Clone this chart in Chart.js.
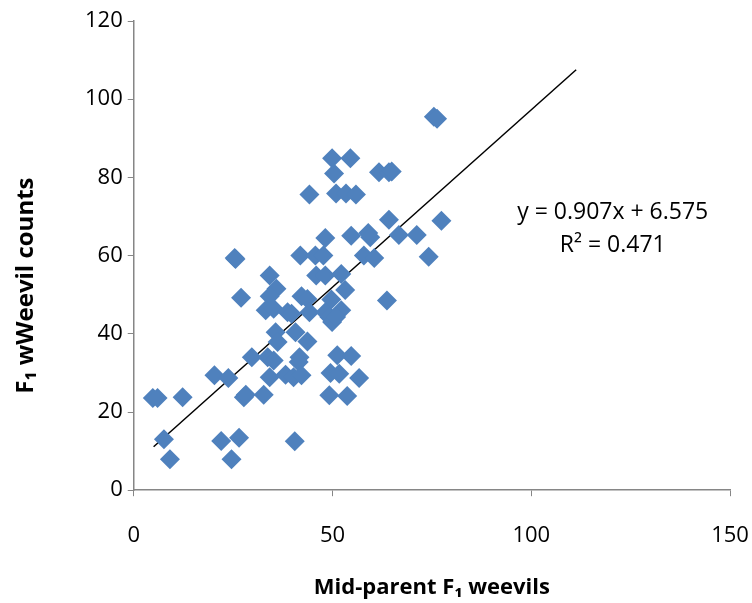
<!DOCTYPE html>
<html>
<head>
<meta charset="utf-8">
<script src="https://cdn.jsdelivr.net/npm/chart.js@4"></script>
<style>
html,body{margin:0;padding:0;background:#fff;}
#wrap{width:752px;height:603px;}
</style>
</head>
<body>
<div id="wrap"><canvas id="c" width="752" height="603"></canvas></div>
<script>
// Mid-parent F1 weevils (x) and F1 weevil counts (y)
const midParent = [
  75.5, 76.3, 49.9, 54.5, 50.4, 61.7, 64.2, 64.9, 44.2, 50.9, 53.4, 55.9,
  64.2, 77.4, 54.7, 59.0, 59.5, 66.7, 71.2, 48.2, 74.2, 57.9, 60.5, 41.9,
  45.7, 47.7, 25.4, 25.6, 34.2, 45.9, 48.2, 52.2, 35.9, 34.2, 53.2, 27.0,
  42.2, 43.7, 49.7, 63.7, 33.2, 35.2, 38.7, 39.7, 44.2, 48.2, 49.2, 49.9,
  52.2, 50.9, 35.7, 40.7, 36.2, 43.7, 29.7, 33.7, 35.2, 41.7, 41.5, 51.2,
  54.7, 20.3, 23.8, 34.2, 38.2, 40.2, 42.2, 49.5, 51.7, 56.7, 4.8, 6.0,
  12.3, 27.7, 28.2, 32.7, 49.2, 53.7, 7.6, 22.0, 26.5, 40.5, 9.1, 24.6
];
const f1Counts = [
  95.5, 95.0, 84.9, 84.9, 81.0, 81.3, 81.3, 81.5, 75.6, 75.9, 75.9, 75.6,
  69.2, 68.9, 65.1, 65.8, 64.7, 65.3, 65.3, 64.5, 59.7, 60.0, 59.4, 60.0,
  60.0, 60.0, 59.4, 59.1, 54.9, 54.9, 54.9, 55.3, 51.5, 49.6, 51.2, 49.2,
  49.6, 48.9, 48.8, 48.5, 46.0, 46.4, 45.5, 45.1, 45.5, 45.5, 44.3, 43.0,
  46.0, 44.3, 40.4, 40.4, 37.9, 38.0, 34.0, 34.0, 33.2, 34.0, 32.8, 34.5,
  34.3, 29.4, 28.7, 28.9, 29.5, 28.9, 29.4, 30.0, 29.8, 28.7, 23.6, 23.6,
  23.8, 23.8, 24.4, 24.4, 24.3, 24.1, 13.0, 12.6, 13.4, 12.5, 7.9, 7.9
];
// Linear trendline as printed on the chart
const trendSlope = 0.907;
const trendIntercept = 6.575;
const trendRange = [5.0, 111.3];
const equationLines = ["y = 0.907x + 6.575", "R\u00B2 = 0.471"];
const equationAnchor = [120.5, 71.1, 62.7]; // x, y of line 1, y of line 2 (data units)
const xTicks = [0, 50, 100, 150];
const yTicks = [0, 20, 40, 60, 80, 100, 120];
const xTitle = 'Mid-parent F\u2081 weevils';
const yTitle = 'F\u2081 wWeevil counts';

const points = midParent.map((x, i) => ({x: x, y: f1Counts[i]}));
const trend = trendRange.map(x => ({x: x, y: trendSlope * x + trendIntercept}));

const FONT = "'Open Sans', 'Liberation Sans', sans-serif";

const textPlugin = {
  id: 'texts',
  afterDatasetsDraw(chart) {
    const {ctx, scales, chartArea} = chart;
    const px = scales.x.getPixelForValue(equationAnchor[0]);
    ctx.save();
    ctx.fillStyle = '#000';
    ctx.font = "23px " + FONT;
    ctx.textAlign = 'center';
    ctx.textBaseline = 'middle';
    ctx.fillText(equationLines[0], px, scales.y.getPixelForValue(equationAnchor[1]));
    ctx.fillText(equationLines[1], px, scales.y.getPixelForValue(equationAnchor[2]));
    // y-axis title, rotated
    ctx.translate(26, (chartArea.top + chartArea.bottom) / 2 + 30);
    ctx.rotate(-Math.PI / 2);
    ctx.font = "bold 24px " + FONT;
    ctx.fillText(yTitle, 0, 0);
    ctx.restore();
  }
};

new Chart(document.getElementById('c'), {
  type: 'scatter',
  data: {
    datasets: [
      {
        label: 'F1',
        data: points,
        pointStyle: 'rectRot',
        pointRadius: 10,
        pointHoverRadius: 10,
        backgroundColor: '#4F81BD',
        borderColor: '#4F81BD',
        borderWidth: 0
      },
      {
        label: 'Trend',
        type: 'line',
        data: trend,
        borderColor: '#000',
        borderWidth: 1.5,
        pointRadius: 0,
        fill: false
      }
    ]
  },
  options: {
    responsive: false,
    animation: false,
    events: [],
    layout: {padding: {top: 21, right: 0, left: 80, bottom: 2}},
    plugins: {legend: {display: false}, tooltip: {enabled: false}},
    scales: {
      x: {
        type: 'linear',
        min: 0, max: 150,
        afterBuildTicks: s => { s.ticks = xTicks.map(v => ({value: v})); },
        afterFit: s => { s.paddingRight = 22; },
        grid: {display: true, drawOnChartArea: false, drawTicks: true, tickLength: 6, color: '#868686'},
        border: {display: true, color: '#868686', width: 1.5},
        ticks: {color: '#000', font: {size: 22, family: FONT}, padding: 26, maxRotation: 0},
        title: {display: true, text: xTitle, color: '#000',
                font: {size: 22, weight: 'bold', family: FONT}, padding: {top: 0, bottom: 0}}
      },
      y: {
        type: 'linear',
        min: 0, max: 120,
        afterBuildTicks: s => { s.ticks = yTicks.map(v => ({value: v})); },
        grid: {display: true, drawOnChartArea: false, drawTicks: true, tickLength: 6, color: '#868686'},
        border: {display: true, color: '#868686', width: 1.5},
        ticks: {color: '#000', font: {size: 22, family: FONT}, padding: 5},
        title: {display: false}
      }
    }
  },
  plugins: [textPlugin]
});
</script>
</body>
</html>
